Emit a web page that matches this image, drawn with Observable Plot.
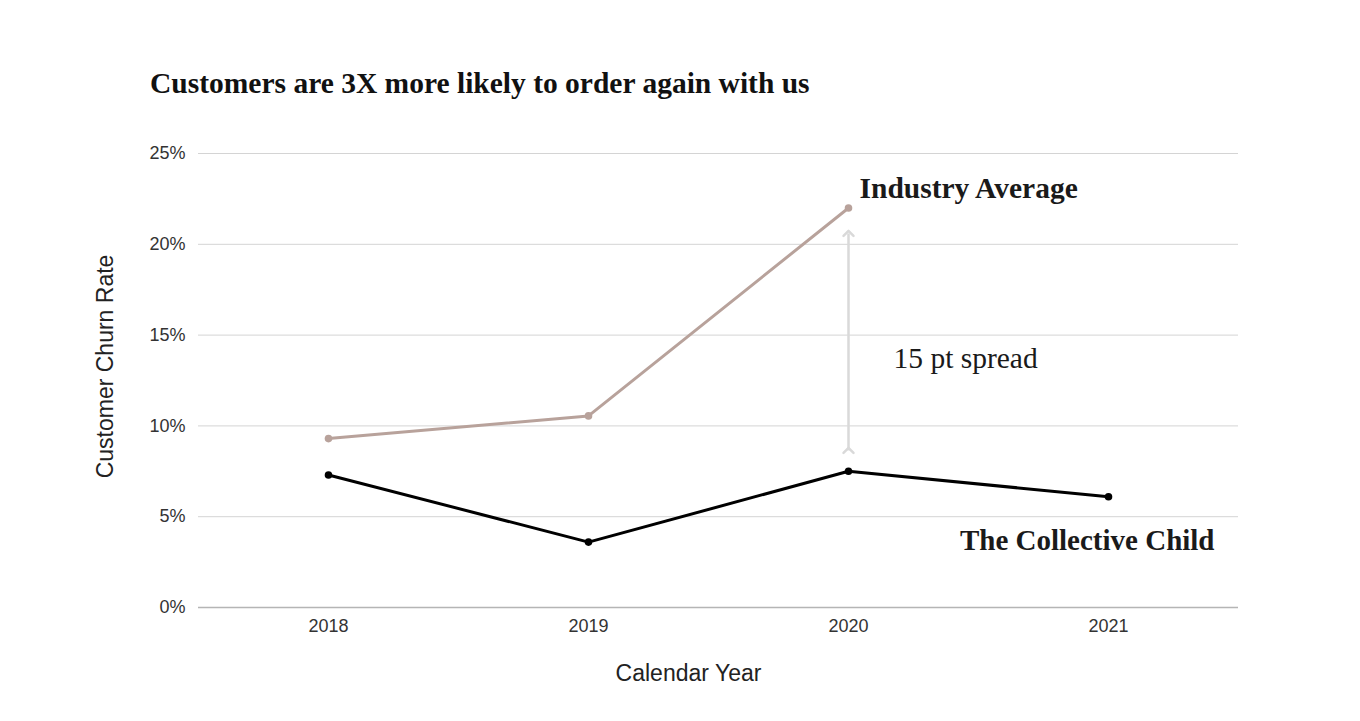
<!DOCTYPE html>
<html>
<head>
<meta charset="utf-8">
<script src="https://cdn.jsdelivr.net/npm/d3@7"></script>
<script src="https://cdn.jsdelivr.net/npm/@observablehq/plot@0.6"></script>
<style>
  html, body { margin: 0; padding: 0; background: #fff; }
  #wrap { position: relative; width: 1360px; height: 721px; }
  #title { position: absolute; left: 150px; top: 67px; font-family: "Liberation Serif", serif; font-weight: bold; font-size: 29.5px; color: #111; white-space: nowrap; }
  #chart { position: absolute; left: 0; top: 0; }
</style>
</head>
<body>
<div id="wrap">
  <div id="chart"></div>
  <div id="title">Customers are 3X more likely to order again with us</div>
</div>
<script>
const years = ["2018", "2019", "2020", "2021"];
const industryAvg = [9.3, 10.55, 22.0, null];
const collectiveChild = [7.3, 3.6, 7.5, 6.1];
const yTicks = [0, 5, 10, 15, 20, 25];
const seriesNames = ["Industry Average", "The Collective Child"];
const spreadLabel = "15 pt spread";
const spreadRange = [8.65, 20.6];
const xTitle = "Calendar Year";
const yTitle = "Customer Churn Rate";

const industry = years.map((yr, i) => ({year: yr, value: industryAvg[i]})).filter(d => d.value != null);
const collective = years.map((yr, i) => ({year: yr, value: collectiveChild[i]}));

const serif = "'Liberation Serif', serif";
const chart = Plot.plot({
  width: 1360,
  height: 721,
  marginLeft: 198,
  marginRight: 122,
  marginTop: 153,
  marginBottom: 114,
  style: {fontFamily: "'Liberation Sans', Arial, sans-serif", background: "transparent"},
  x: {type: "point", domain: years, padding: 0.5},
  y: {domain: [0, 25]},
  marks: [
    Plot.gridY(yTicks.filter(t => t > 0), {stroke: "#d4d4d4", strokeOpacity: 1, strokeWidth: 1}),
    Plot.ruleY([0], {stroke: "#b5b5b5", strokeWidth: 1.5}),
    Plot.axisY(yTicks, {tickSize: 0, tickPadding: 13, tickFormat: d => d + "%", fontSize: 18, fill: "#333", label: null}),
    Plot.axisX({tickSize: 0, tickPadding: 12, fontSize: 18, fill: "#333", label: null}),
    Plot.link([spreadRange], {x1: () => "2020", x2: () => "2020", y1: d => d[0], y2: d => d[1], stroke: "#d9d9d9", strokeWidth: 2.5, markerStart: "arrow", markerEnd: "arrow"}),
    Plot.line(industry, {x: "year", y: "value", stroke: "#b8a29b", strokeWidth: 3}),
    Plot.dot(industry, {x: "year", y: "value", fill: "#b8a29b", r: 3.8}),
    Plot.line(collective, {x: "year", y: "value", stroke: "#000", strokeWidth: 3}),
    Plot.dot(collective, {x: "year", y: "value", fill: "#000", r: 3.8}),
    Plot.text([industry[2]], {x: "year", y: "value", text: () => seriesNames[0], textAnchor: "start", dx: 11, dy: -19, fontSize: 29.5, fontWeight: "bold", fontFamily: serif, fill: "#1a1a1a"}),
    Plot.text([collective[3]], {x: "year", y: "value", text: () => seriesNames[1], textAnchor: "end", dx: 106, dy: 44, fontSize: 29, fontWeight: "bold", fontFamily: serif, fill: "#1a1a1a"}),
    Plot.text([{year: "2020", value: 13.7}], {x: "year", y: "value", text: () => spreadLabel, textAnchor: "start", dx: 45, fontSize: 29.5, fontFamily: serif, fill: "#1a1a1a"}),
    Plot.text([xTitle], {frameAnchor: "bottom", text: d => d, dx: -30, dy: 73, fontSize: 23, fill: "#222"}),
    Plot.text([yTitle], {frameAnchor: "left", text: d => d, rotate: -90, textAnchor: "middle", dx: -93, dy: -14, fontSize: 23, fill: "#222"})
  ]
});
document.getElementById("chart").appendChild(chart);
</script>
</body>
</html>
